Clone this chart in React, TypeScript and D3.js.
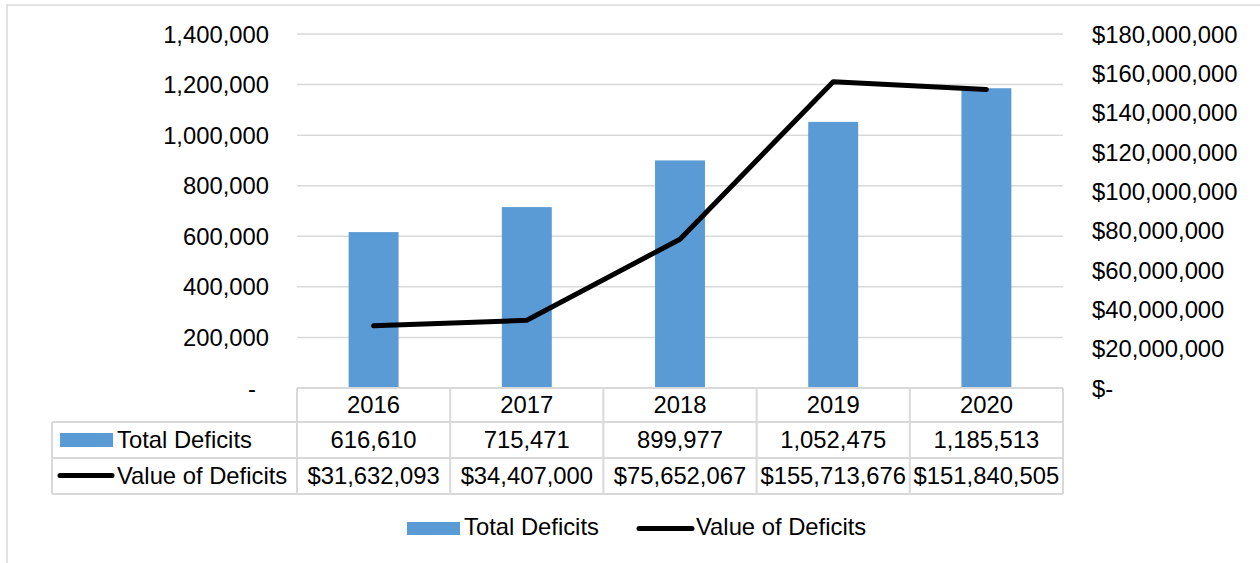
import React from "react";
import * as d3 from "d3";

const years = ["2016", "2017", "2018", "2019", "2020"];
const totalDeficits = [616610, 715471, 899977, 1052475, 1185513];
const valueOfDeficits = [31632093, 34407000, 75652067, 155713676, 151840505];
const leftTicks = [0, 200000, 400000, 600000, 800000, 1000000, 1200000, 1400000];
const rightTicks = [0, 20000000, 40000000, 60000000, 80000000, 100000000, 120000000, 140000000, 160000000, 180000000];
const seriesNames = ["Total Deficits", "Value of Deficits"];

const W = 1260;
const H = 563;
const FONT = "Liberation Sans, Arial, sans-serif";
const FS = 23.8;
const GRID = "#d9d9d9";
const BAR = "#5b9bd5";

export default function App() {
  const plotL = 297, plotR = 1063, plotT = 34, plotB = 388;
  const yL = d3.scaleLinear().domain([0, 1400000]).range([plotB, plotT]);
  const yR = d3.scaleLinear().domain([0, 180000000]).range([plotB, plotT]);
  const p = 0.674;
  const xBar = d3.scaleBand<string>().domain(years).range([plotL, plotR]).paddingInner(p).paddingOuter(p / 2);
  const xCol = d3.scaleBand<string>().domain(years).range([plotL, plotR]).padding(0);
  const fmtL = d3.format(",");
  const fmtR = d3.format("$,");
  const line = d3
    .line<number>()
    .x((_, i) => (xCol(years[i]) as number) + xCol.bandwidth() / 2)
    .y((d) => yR(d));

  const rowTop = [388, 422, 458, 494];
  const tableL = 52;

  return (
    <svg
      width={W}
      height={H}
      style={{ position: "absolute", left: 0, top: 0, background: "#fff" }}
      fontFamily={FONT}
      fontSize={FS}
    >
      <rect x={7} y={5} width={1400} height={700} fill="#fff" stroke={GRID} strokeWidth={1.5} />
      {/* gridlines */}
      {leftTicks.slice(1).map((t) => (
        <line key={t} x1={plotL} x2={plotR} y1={yL(t)} y2={yL(t)} stroke={GRID} strokeWidth={1.5} />
      ))}
      {/* left axis labels */}
      {leftTicks.map((t) => (
        <text
          key={"l" + t}
          x={269}
          dx={t === 0 ? -13 : 0}
          y={yL(t)}
          dy="0.36em"
          textAnchor="end"
          fill="#000"
        >
          {t === 0 ? "-" : fmtL(t)}
        </text>
      ))}
      {/* right axis labels */}
      {rightTicks.map((t) => (
        <text key={"r" + t} x={1092} y={yR(t)} dy="0.36em" textAnchor="start" fill="#000">
          {t === 0 ? "$-" : fmtR(t)}
        </text>
      ))}
      {/* bars */}
      {totalDeficits.map((v, i) => (
        <rect
          key={"b" + i}
          x={xBar(years[i])}
          y={yL(v)}
          width={xBar.bandwidth()}
          height={yL(0) - yL(v)}
          fill={BAR}
        />
      ))}
      {/* line */}
      <path
        d={line(valueOfDeficits) || ""}
        fill="none"
        stroke="#000"
        strokeWidth={5}
        strokeLinecap="round"
        strokeLinejoin="round"
      />
      {/* data table */}
      <g stroke={GRID} strokeWidth={2} fill="none">
        <line x1={plotL} x2={plotR} y1={rowTop[0]} y2={rowTop[0]} />
        <line x1={tableL} x2={plotR} y1={rowTop[1]} y2={rowTop[1]} />
        <line x1={tableL} x2={plotR} y1={rowTop[2]} y2={rowTop[2]} />
        <line x1={tableL} x2={plotR} y1={rowTop[3]} y2={rowTop[3]} />
        <line x1={tableL} x2={tableL} y1={rowTop[1]} y2={rowTop[3]} />
        {years.map((y) => (
          <line key={"v" + y} x1={xCol(y)} x2={xCol(y)} y1={rowTop[0]} y2={rowTop[3]} />
        ))}
        <line x1={plotR} x2={plotR} y1={rowTop[0]} y2={rowTop[3]} />
      </g>
      {years.map((y) => (
        <text key={"h" + y} x={(xCol(y) as number) + xCol.bandwidth() / 2} y={413} textAnchor="middle" fill="#000">
          {y}
        </text>
      ))}
      {totalDeficits.map((v, i) => (
        <text key={"t1" + i} x={(xCol(years[i]) as number) + xCol.bandwidth() / 2} y={448} textAnchor="middle" fill="#000">
          {fmtL(v)}
        </text>
      ))}
      {valueOfDeficits.map((v, i) => (
        <text key={"t2" + i} x={(xCol(years[i]) as number) + xCol.bandwidth() / 2} y={483.5} textAnchor="middle" fill="#000">
          {fmtR(v)}
        </text>
      ))}
      {/* table legend keys */}
      <rect x={60} y={433} width={53} height={14} fill={BAR} />
      <text x={117} y={448} fill="#000">{seriesNames[0]}</text>
      <line x1={60} x2={112} y1={475.5} y2={475.5} stroke="#000" strokeWidth={5} strokeLinecap="round" />
      <text x={117} y={483.5} fill="#000">{seriesNames[1]}</text>
      {/* bottom legend */}
      <rect x={407} y={522} width={53} height={13} fill={BAR} />
      <text x={464} y={535} fill="#000">{seriesNames[0]}</text>
      <line x1={639} x2={692} y1={528.5} y2={528.5} stroke="#000" strokeWidth={5} strokeLinecap="round" />
      <text x={696} y={535} fill="#000">{seriesNames[1]}</text>
    </svg>
  );
}
